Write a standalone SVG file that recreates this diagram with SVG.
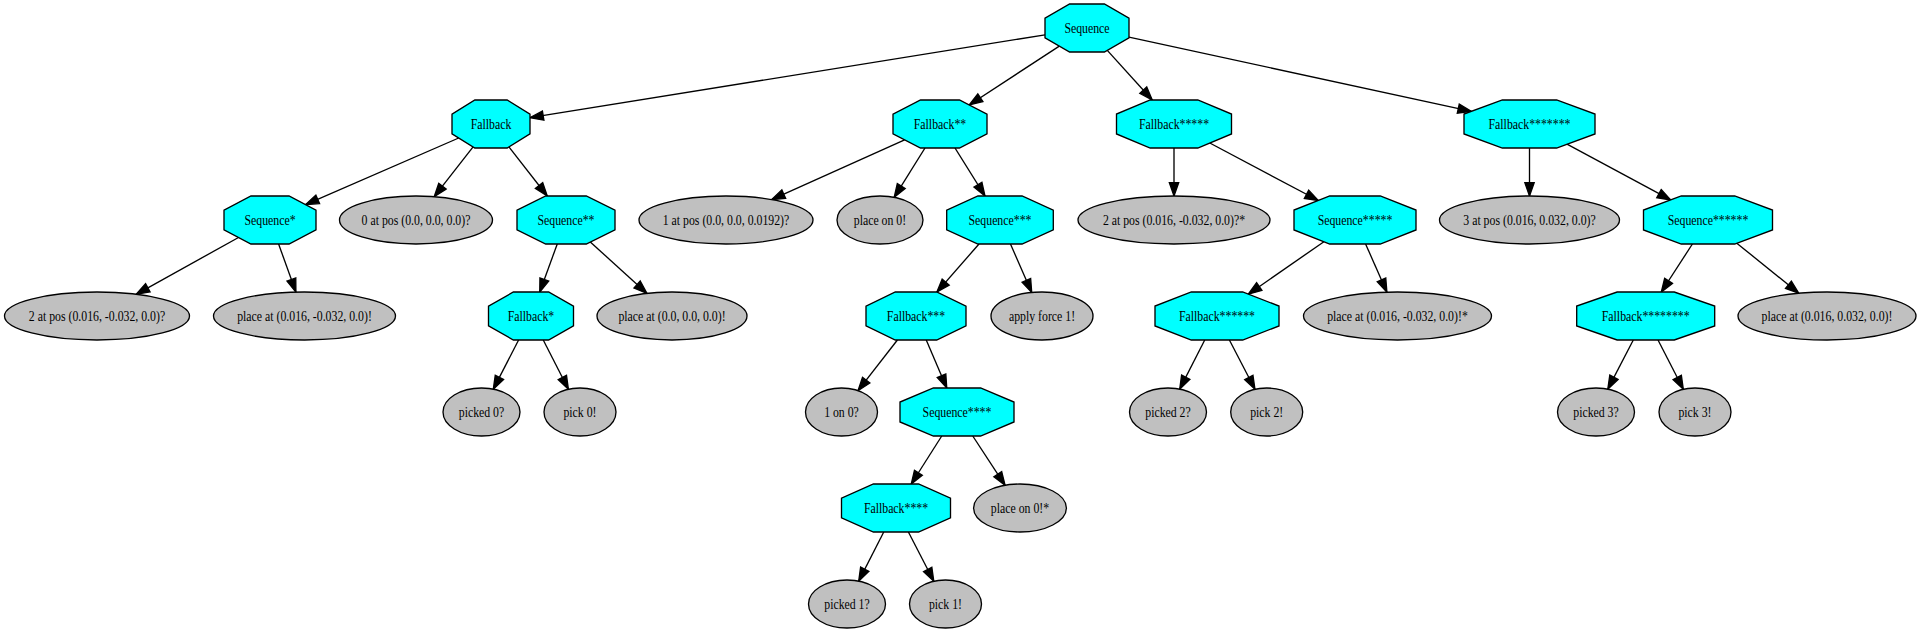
<svg xmlns="http://www.w3.org/2000/svg" width="1921" height="635" viewBox="0 0 1921 635">
<style>
.oct{fill:#00ffff;stroke:#000;stroke-width:1.33}
.ell{fill:#c0c0c0;stroke:#000;stroke-width:1.33}
text{font-family:"Liberation Serif","Times New Roman",serif;font-size:14px;text-anchor:middle;fill:#000}
#edges line{stroke:#000;stroke-width:1.33;fill:none;marker-end:url(#arr)}
</style>
<defs>
<marker id="arr" markerUnits="userSpaceOnUse" markerWidth="14" markerHeight="10" refX="13.33" refY="4.67" orient="auto" overflow="visible">
<path d="M0,0 L13.33,4.67 L0,9.33 z" fill="#000" stroke="#000" stroke-width="1.33" stroke-linejoin="miter"/>
</marker>
</defs>
<rect width="1921" height="635" fill="#fff"/>
<g id="edges">
<line x1="1045" y1="34.8" x2="530" y2="117.7"/>
<line x1="1059.3" y1="46.1" x2="969.2" y2="105"/>
<line x1="1107.3" y1="50.4" x2="1152.25" y2="100"/>
<line x1="1129" y1="37.1" x2="1471.3" y2="111.4"/>
<line x1="458.7" y1="138" x2="305.5" y2="204.6"/>
<line x1="473.1" y1="146.9" x2="434.2" y2="196.7"/>
<line x1="508.9" y1="146.9" x2="547.25" y2="196"/>
<line x1="238.5" y1="237.5" x2="136.2" y2="294.3"/>
<line x1="278.6" y1="244" x2="295.9" y2="292.1"/>
<line x1="557.25" y1="244" x2="539.75" y2="292"/>
<line x1="590.3" y1="242" x2="647" y2="293.4"/>
<line x1="518.6" y1="340" x2="493.3" y2="389.15"/>
<line x1="543.25" y1="340" x2="568.4" y2="389.3"/>
<line x1="904.6" y1="139.9" x2="771.6" y2="199.6"/>
<line x1="925" y1="148" x2="894.2" y2="197.3"/>
<line x1="955" y1="148" x2="985" y2="196"/>
<line x1="979" y1="244" x2="936.9" y2="292.1"/>
<line x1="1010.5" y1="244" x2="1031.7" y2="292.5"/>
<line x1="897.4" y1="340" x2="858" y2="390.7"/>
<line x1="926.25" y1="340" x2="946.75" y2="388"/>
<line x1="941.75" y1="436" x2="911.25" y2="484"/>
<line x1="972.75" y1="436" x2="1005.1" y2="485.3"/>
<line x1="883.75" y1="532" x2="858.7" y2="581.1"/>
<line x1="908.4" y1="532" x2="933.8" y2="581.3"/>
<line x1="1174" y1="148" x2="1174" y2="196"/>
<line x1="1209.8" y1="143" x2="1318.3" y2="200.5"/>
<line x1="1323.9" y1="241.7" x2="1248.3" y2="294.2"/>
<line x1="1365.6" y1="244" x2="1386.9" y2="292.15"/>
<line x1="1204.75" y1="340" x2="1179.7" y2="389.1"/>
<line x1="1229.4" y1="340" x2="1254.95" y2="389.3"/>
<line x1="1529.5" y1="148" x2="1529.5" y2="196"/>
<line x1="1567" y1="144.2" x2="1670.7" y2="199.95"/>
<line x1="1692.4" y1="244" x2="1661.3" y2="292"/>
<line x1="1736.8" y1="243.2" x2="1798.8" y2="293.2"/>
<line x1="1633.3" y1="340" x2="1607.8" y2="389.1"/>
<line x1="1658" y1="340" x2="1683.3" y2="389.3"/>
</g>
<g id="n0"><polygon class="oct" points="1129,18.06 1129,37.94 1104.39,52 1069.61,52 1045,37.94 1045,18.06 1069.61,4 1104.39,4"/><text x="1087" y="33" textLength="45.2" lengthAdjust="spacingAndGlyphs">Sequence</text></g>
<g id="n1"><polygon class="oct" points="530,114.06 530,133.94 507.15,148 474.85,148 452,133.94 452,114.06 474.85,100 507.15,100"/><text x="491" y="129" textLength="40.6" lengthAdjust="spacingAndGlyphs">Fallback</text></g>
<g id="n2"><polygon class="oct" points="987,114.06 987,133.94 959.46,148 920.54,148 893,133.94 893,114.06 920.54,100 959.46,100"/><text x="940" y="129" textLength="52.4" lengthAdjust="spacingAndGlyphs">Fallback**</text></g>
<g id="n3"><polygon class="oct" points="1231.5,114.06 1231.5,133.94 1197.8,148 1150.2,148 1116.5,133.94 1116.5,114.06 1150.2,100 1197.8,100"/><text x="1174" y="129" textLength="70.1" lengthAdjust="spacingAndGlyphs">Fallback*****</text></g>
<g id="n4"><polygon class="oct" points="1595,114.06 1595,133.94 1556.62,148 1502.38,148 1464,133.94 1464,114.06 1502.38,100 1556.62,100"/><text x="1529.5" y="129" textLength="81.9" lengthAdjust="spacingAndGlyphs">Fallback*******</text></g>
<g id="n5"><polygon class="oct" points="316,210.06 316,229.94 289.04,244 250.96,244 224,229.94 224,210.06 250.96,196 289.04,196"/><text x="270" y="225" textLength="51.1" lengthAdjust="spacingAndGlyphs">Sequence*</text></g>
<g id="n6"><ellipse class="ell" cx="416" cy="220" rx="76.5" ry="24"/><text x="416" y="225" textLength="108.8" lengthAdjust="spacingAndGlyphs">0 at pos (0.0, 0.0, 0.0)?</text></g>
<g id="n7"><polygon class="oct" points="615,210.06 615,229.94 586.29,244 545.71,244 517,229.94 517,210.06 545.71,196 586.29,196"/><text x="566" y="225" textLength="57" lengthAdjust="spacingAndGlyphs">Sequence**</text></g>
<g id="n8"><ellipse class="ell" cx="726" cy="220" rx="87" ry="24"/><text x="726" y="225" textLength="126.5" lengthAdjust="spacingAndGlyphs">1 at pos (0.0, 0.0, 0.0192)?</text></g>
<g id="n9"><ellipse class="ell" cx="880" cy="220" rx="43" ry="24"/><text x="880" y="225" textLength="52.4" lengthAdjust="spacingAndGlyphs">place on 0!</text></g>
<g id="n10"><polygon class="oct" points="1053.3,210.06 1053.3,229.94 1022.07,244 977.93,244 946.7,229.94 946.7,210.06 977.93,196 1022.07,196"/><text x="1000" y="225" textLength="62.9" lengthAdjust="spacingAndGlyphs">Sequence***</text></g>
<g id="n11"><ellipse class="ell" cx="1174" cy="220" rx="96" ry="24"/><text x="1174" y="225" textLength="142.2" lengthAdjust="spacingAndGlyphs">2 at pos (0.016, -0.032, 0.0)?*</text></g>
<g id="n12"><polygon class="oct" points="1416,210.06 1416,229.94 1380.25,244 1329.75,244 1294,229.94 1294,210.06 1329.75,196 1380.25,196"/><text x="1355" y="225" textLength="74.7" lengthAdjust="spacingAndGlyphs">Sequence*****</text></g>
<g id="n13"><ellipse class="ell" cx="1529.5" cy="220" rx="90" ry="24"/><text x="1529.5" y="225" textLength="132.4" lengthAdjust="spacingAndGlyphs">3 at pos (0.016, 0.032, 0.0)?</text></g>
<g id="n14"><polygon class="oct" points="1772.5,210.06 1772.5,229.94 1734.7,244 1681.3,244 1643.5,229.94 1643.5,210.06 1681.3,196 1734.7,196"/><text x="1708" y="225" textLength="80.6" lengthAdjust="spacingAndGlyphs">Sequence******</text></g>
<g id="n15"><ellipse class="ell" cx="97" cy="316" rx="92.5" ry="24"/><text x="97" y="321" textLength="136.3" lengthAdjust="spacingAndGlyphs">2 at pos (0.016, -0.032, 0.0)?</text></g>
<g id="n16"><ellipse class="ell" cx="304.5" cy="316" rx="91" ry="24"/><text x="304.5" y="321" textLength="134.7" lengthAdjust="spacingAndGlyphs">place at (0.016, -0.032, 0.0)!</text></g>
<g id="n17"><polygon class="oct" points="573.5,306.06 573.5,325.94 548.6,340 513.4,340 488.5,325.94 488.5,306.06 513.4,292 548.6,292"/><text x="531" y="321" textLength="46.5" lengthAdjust="spacingAndGlyphs">Fallback*</text></g>
<g id="n18"><ellipse class="ell" cx="672" cy="316" rx="75" ry="24"/><text x="672" y="321" textLength="107.2" lengthAdjust="spacingAndGlyphs">place at (0.0, 0.0, 0.0)!</text></g>
<g id="n19"><polygon class="oct" points="966,306.06 966,325.94 936.7,340 895.3,340 866,325.94 866,306.06 895.3,292 936.7,292"/><text x="916" y="321" textLength="58.3" lengthAdjust="spacingAndGlyphs">Fallback***</text></g>
<g id="n20"><ellipse class="ell" cx="1042" cy="316" rx="51" ry="24"/><text x="1042" y="321" textLength="66.2" lengthAdjust="spacingAndGlyphs">apply force 1!</text></g>
<g id="n21"><polygon class="oct" points="1279,306.06 1279,325.94 1242.67,340 1191.33,340 1155,325.94 1155,306.06 1191.33,292 1242.67,292"/><text x="1217" y="321" textLength="76" lengthAdjust="spacingAndGlyphs">Fallback******</text></g>
<g id="n22"><ellipse class="ell" cx="1397.5" cy="316" rx="94" ry="24"/><text x="1397.5" y="321" textLength="140.6" lengthAdjust="spacingAndGlyphs">place at (0.016, -0.032, 0.0)!*</text></g>
<g id="n23"><polygon class="oct" points="1714.7,306.06 1714.7,325.94 1674.27,340 1617.13,340 1576.7,325.94 1576.7,306.06 1617.13,292 1674.27,292"/><text x="1645.7" y="321" textLength="87.8" lengthAdjust="spacingAndGlyphs">Fallback********</text></g>
<g id="n24"><ellipse class="ell" cx="1827" cy="316" rx="89" ry="24"/><text x="1827" y="321" textLength="130.8" lengthAdjust="spacingAndGlyphs">place at (0.016, 0.032, 0.0)!</text></g>
<g id="n25"><ellipse class="ell" cx="481.5" cy="412" rx="38.5" ry="24"/><text x="481.5" y="417" textLength="45.5" lengthAdjust="spacingAndGlyphs">picked 0?</text></g>
<g id="n26"><ellipse class="ell" cx="580" cy="412" rx="36" ry="24"/><text x="580" y="417" textLength="33.1" lengthAdjust="spacingAndGlyphs">pick 0!</text></g>
<g id="n27"><ellipse class="ell" cx="841.5" cy="412" rx="36" ry="24"/><text x="841.5" y="417" textLength="34.7" lengthAdjust="spacingAndGlyphs">1 on 0?</text></g>
<g id="n28"><polygon class="oct" points="1014,402.06 1014,421.94 980.6,436 933.4,436 900,421.94 900,402.06 933.4,388 980.6,388"/><text x="957" y="417" textLength="68.8" lengthAdjust="spacingAndGlyphs">Sequence****</text></g>
<g id="n29"><ellipse class="ell" cx="1168" cy="412" rx="38.5" ry="24"/><text x="1168" y="417" textLength="45.5" lengthAdjust="spacingAndGlyphs">picked 2?</text></g>
<g id="n30"><ellipse class="ell" cx="1266.7" cy="412" rx="36" ry="24"/><text x="1266.7" y="417" textLength="33.1" lengthAdjust="spacingAndGlyphs">pick 2!</text></g>
<g id="n31"><ellipse class="ell" cx="1596" cy="412" rx="38.5" ry="24"/><text x="1596" y="417" textLength="45.5" lengthAdjust="spacingAndGlyphs">picked 3?</text></g>
<g id="n32"><ellipse class="ell" cx="1695" cy="412" rx="36" ry="24"/><text x="1695" y="417" textLength="33.1" lengthAdjust="spacingAndGlyphs">pick 3!</text></g>
<g id="n33"><polygon class="oct" points="950.5,498.06 950.5,517.94 918.56,532 873.44,532 841.5,517.94 841.5,498.06 873.44,484 918.56,484"/><text x="896" y="513" textLength="64.2" lengthAdjust="spacingAndGlyphs">Fallback****</text></g>
<g id="n34"><ellipse class="ell" cx="1020" cy="508" rx="46.4" ry="24"/><text x="1020" y="513" textLength="58.3" lengthAdjust="spacingAndGlyphs">place on 0!*</text></g>
<g id="n35"><ellipse class="ell" cx="847" cy="604" rx="38.5" ry="24"/><text x="847" y="609" textLength="45.5" lengthAdjust="spacingAndGlyphs">picked 1?</text></g>
<g id="n36"><ellipse class="ell" cx="945.5" cy="604" rx="36" ry="24"/><text x="945.5" y="609" textLength="33.1" lengthAdjust="spacingAndGlyphs">pick 1!</text></g>
</svg>
